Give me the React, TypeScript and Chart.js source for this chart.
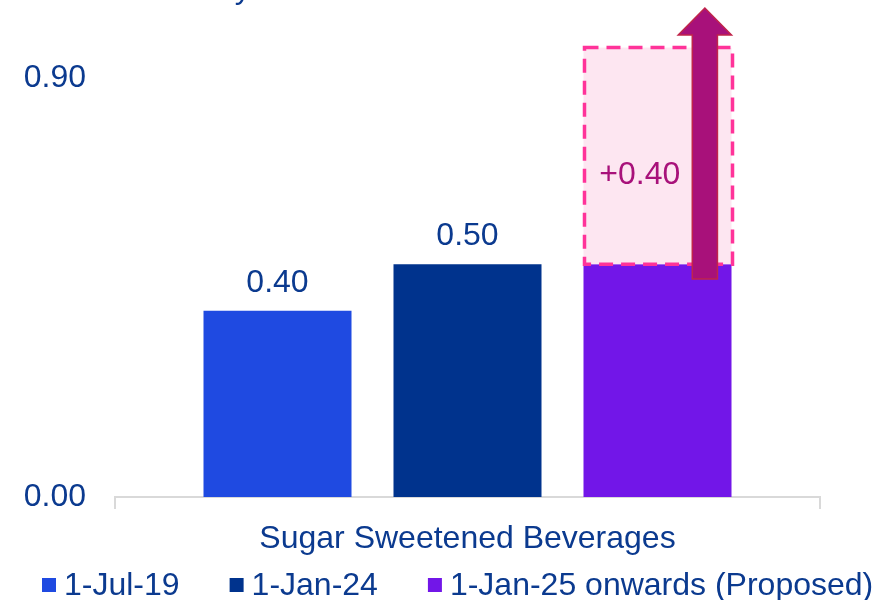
import React, { useEffect, useRef } from 'react';
import { Chart, registerables } from 'chart.js';

Chart.register(...registerables);

const categories = ['Sugar Sweetened Beverages'];
const seriesLabels = ['1-Jul-19', '1-Jan-24', '1-Jan-25 onwards (Proposed)'];
const series1 = [0.4];
const series2 = [0.5];
const series3 = [0.5];
const seriesColors = ['#1f4ae1', '#00338d', '#7216e8'];
const yTickValues = [0, 0.9];
const yMax = 1.05;
const increaseLabel = '+0.40';
const proposedBoxTop = 0.965;
const arrowBase = 0.468;
const arrowTop = 1.05;
const increaseLabelValue = 0.69;
const titleText = 'Excise Levy on SSBs';

const FONT = 'Arial, "Liberation Sans", sans-serif';
const TEXT_COLOR = '#0b3a8f';

const overlayPlugin = {
  id: 'overlay',
  afterDatasetsDraw(chart: any) {
    const ctx = chart.ctx;
    const y = chart.scales.y;
    ctx.save();
    ctx.font = `32px ${FONT}`;
    ctx.fillStyle = TEXT_COLOR;
    ctx.textAlign = 'center';
    ctx.textBaseline = 'alphabetic';
    [0, 1].forEach((di) => {
      const meta = chart.getDatasetMeta(di);
      meta.data.forEach((bar: any, i: number) => {
        const v = chart.data.datasets[di].data[i] as number;
        ctx.fillText(v.toFixed(2), bar.x, bar.y - 19);
      });
    });
    const bar3 = chart.getDatasetMeta(2).data[0] as any;
    const left = bar3.x - bar3.width / 2;
    const right = bar3.x + bar3.width / 2;
    const w = bar3.width;
    const boxTopPx = y.getPixelForValue(proposedBoxTop);
    const boxBotPx = y.getPixelForValue(series3[0]);
    ctx.fillStyle = '#fde6f1';
    ctx.fillRect(left, boxTopPx, right - left, boxBotPx - boxTopPx);
    ctx.setLineDash([14, 8]);
    ctx.lineWidth = 3.5;
    ctx.strokeStyle = '#ff3399';
    ctx.strokeRect(left + 1, boxTopPx, right - left, boxBotPx - boxTopPx);
    ctx.setLineDash([]);
    ctx.fillStyle = '#a8117a';
    ctx.font = `32px ${FONT}`;
    ctx.textAlign = 'center';
    ctx.textBaseline = 'middle';
    ctx.fillText(increaseLabel, bar3.x - 0.12 * w, y.getPixelForValue(increaseLabelValue));
    const ax = bar3.x + 0.32 * w;
    const shaftHalf = 0.085 * w;
    const headHalf = 0.18 * w;
    const tipPx = y.getPixelForValue(arrowTop);
    const basePx = y.getPixelForValue(arrowBase);
    const headBase = tipPx + 27;
    ctx.beginPath();
    ctx.moveTo(ax - shaftHalf, basePx);
    ctx.lineTo(ax - shaftHalf, headBase);
    ctx.lineTo(ax - headHalf, headBase);
    ctx.lineTo(ax, tipPx);
    ctx.lineTo(ax + headHalf, headBase);
    ctx.lineTo(ax + shaftHalf, headBase);
    ctx.lineTo(ax + shaftHalf, basePx);
    ctx.closePath();
    ctx.fillStyle = '#a8117a';
    ctx.fill();
    ctx.lineWidth = 1.5;
    ctx.strokeStyle = '#c0254a';
    ctx.stroke();
    ctx.restore();
  },
  afterDraw(chart: any) {
    const ctx = chart.ctx;
    ctx.save();
    ctx.font = `32px ${FONT}`;
    ctx.fillStyle = TEXT_COLOR;
    ctx.textAlign = 'left';
    ctx.textBaseline = 'alphabetic';
    ctx.fillText(titleText, 80, -2);
    const cy = 585;
    let x = 42;
    ctx.textBaseline = 'middle';
    seriesLabels.forEach((label, i) => {
      ctx.fillStyle = seriesColors[i];
      ctx.fillRect(x, cy - 7, 14, 14);
      x += 14 + 8;
      ctx.fillStyle = TEXT_COLOR;
      ctx.fillText(label, x, cy + 1);
      x += ctx.measureText(label).width + 50;
    });
    ctx.restore();
  },
};

export default function App() {
  const ref = useRef<HTMLCanvasElement | null>(null);
  useEffect(() => {
    if (!ref.current) return;
    const chart = new Chart(ref.current, {
      type: 'bar',
      data: {
        labels: categories,
        datasets: [
          { label: seriesLabels[0], data: series1, backgroundColor: seriesColors[0] },
          { label: seriesLabels[1], data: series2, backgroundColor: seriesColors[1] },
          { label: seriesLabels[2], data: series3, backgroundColor: seriesColors[2] },
        ],
      },
      options: {
        animation: false,
        responsive: false,
        maintainAspectRatio: false,
        categoryPercentage: 0.8085,
        barPercentage: 0.779,
        layout: { padding: { top: 8, right: 74, bottom: 38, left: 0 } },
        plugins: {
          legend: { display: false },
          tooltip: { enabled: false },
          title: { display: false },
        },
        scales: {
          x: {
            grid: {
              display: true,
              drawOnChartArea: false,
              drawTicks: true,
              tickLength: 12,
              color: '#d9d9d9',
              lineWidth: 2,
              offset: true,
            },
            border: { display: true, color: '#d9d9d9', width: 2 },
            ticks: {
              color: TEXT_COLOR,
              font: { size: 32, family: FONT },
              padding: 11,
              maxRotation: 0,
            },
            afterFit: (s: any) => {
              s.height = 65;
              s.paddingLeft = 0;
              s.paddingRight = 0;
            },
          },
          y: {
            min: 0,
            max: yMax,
            grid: { display: false, drawTicks: false },
            border: { display: false },
            afterBuildTicks: (s: any) => {
              s.ticks = yTickValues.map((v) => ({ value: v }));
            },
            ticks: {
              color: TEXT_COLOR,
              font: { size: 32, family: FONT },
              padding: 29,
              callback: (v: any) => Number(v).toFixed(2),
            },
            afterFit: (s: any) => {
              s.width = 115;
              s.paddingTop = 0;
              s.paddingBottom = 0;
            },
          },
        },
      },
      plugins: [overlayPlugin],
    });
    return () => chart.destroy();
  }, []);
  return (
    <div style={{ position: 'absolute', left: 0, top: 0, width: 894, height: 600 }}>
      <canvas ref={ref} width={894} height={600} style={{ width: 894, height: 600 }} />
    </div>
  );
}
